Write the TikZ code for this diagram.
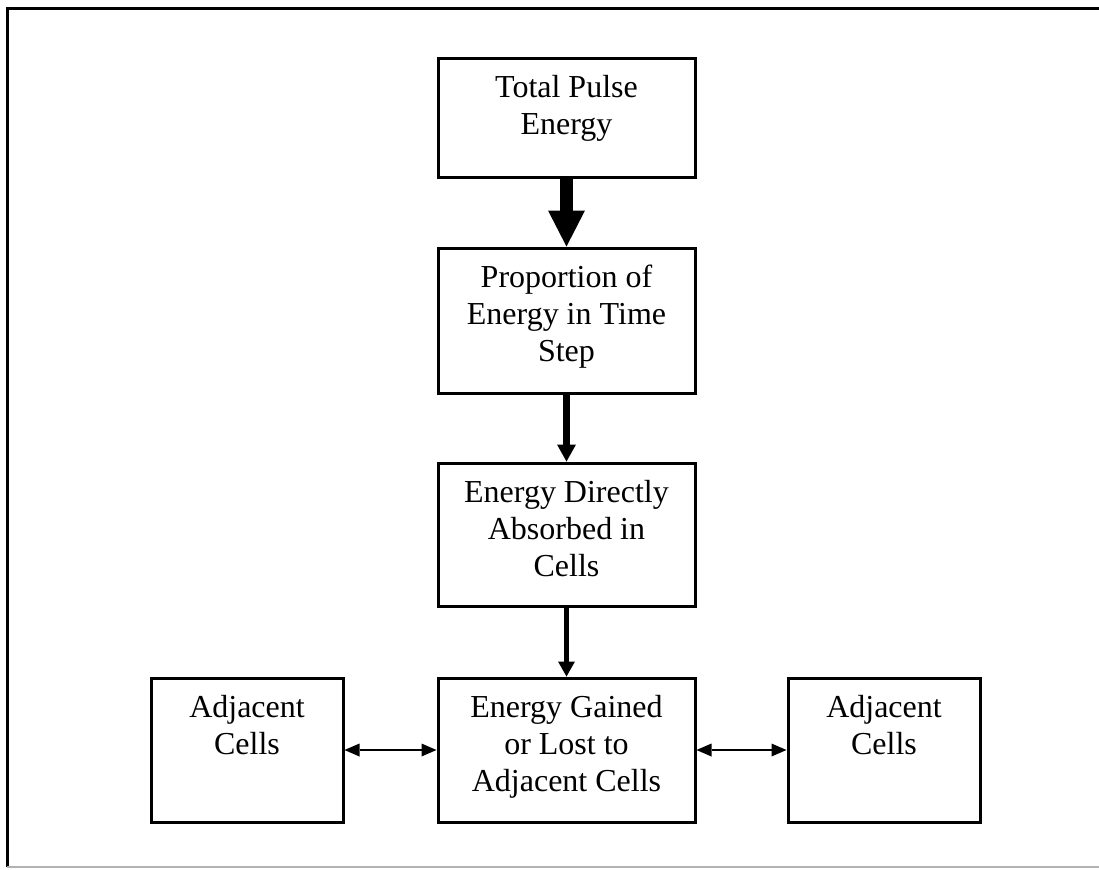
\documentclass[tikz,border=0pt]{standalone}
\usepackage{fontspec}
\setmainfont{Liberation Serif}
\usepackage{tikz}
\usetikzlibrary{arrows.meta,shapes}

\begin{document}
\begin{tikzpicture}[x=0.5pt, y=-0.5pt,
		box/.style={rectangle,draw,line width=1.5pt,align=center,font=\fontsize{16}{18.5}\selectfont,minimum width=128.5pt,inner sep=0pt},
		twolines/.style={text height=38pt},
		threelines/.style={text height=56.5pt},
		sidebox/.style={box,twolines,minimum width=96pt,text depth=34pt},
		bigflow/.style={line width=6.5pt,-{Triangle[width=18.5pt,length=18pt,line width=0pt]}},
		midflow/.style={line width=3.5pt,-{Triangle[width=9.5pt,length=8.5pt,line width=0pt]}},
		smallflow/.style={line width=2.5pt,-{Triangle[width=8.5pt,length=7.5pt,line width=0pt]}},
		exchange/.style={line width=1pt,{Triangle[width=6.5pt,length=7.5pt,line width=0pt]}-{Triangle[width=6.5pt,length=7.5pt,line width=0pt]}}]
		\useasboundingbox (0, 0) rectangle (1099, 869);
		\draw [line width=1.5pt] (7, 867) -- (7, 8) -- (1099, 8);
		\draw [line width=1pt, gray!60] (7, 867) -- (1099, 867);

		\node[box,twolines,text depth=21.5pt] (pulse) at (566.5, 117.5) {Total Pulse\\Energy};
		\node[box,threelines,text depth=16pt] (step) at (566.5, 320.5) {Proportion of\\Energy in Time\\Step};
		\node[box,threelines,text depth=15pt] (absorbed) at (566.5, 534.5) {Energy Directly\\Absorbed in\\Cells};
		\node[box,threelines,text depth=15.5pt] (gained) at (566.5, 750) {Energy Gained\\or Lost to\\Adjacent Cells};
		\node[sidebox] (leftcells) at (247, 750) {Adjacent\\Cells};
		\node[sidebox] (rightcells) at (884, 750) {Adjacent\\Cells};

		\draw [bigflow] (pulse) -- (step);
		\draw [midflow] (step) -- (absorbed);
		\draw [smallflow] (absorbed) -- (gained);

		\draw [exchange] (leftcells) -- (gained);
		\draw [exchange] (gained) -- (rightcells);
\end{tikzpicture}
\end{document}
